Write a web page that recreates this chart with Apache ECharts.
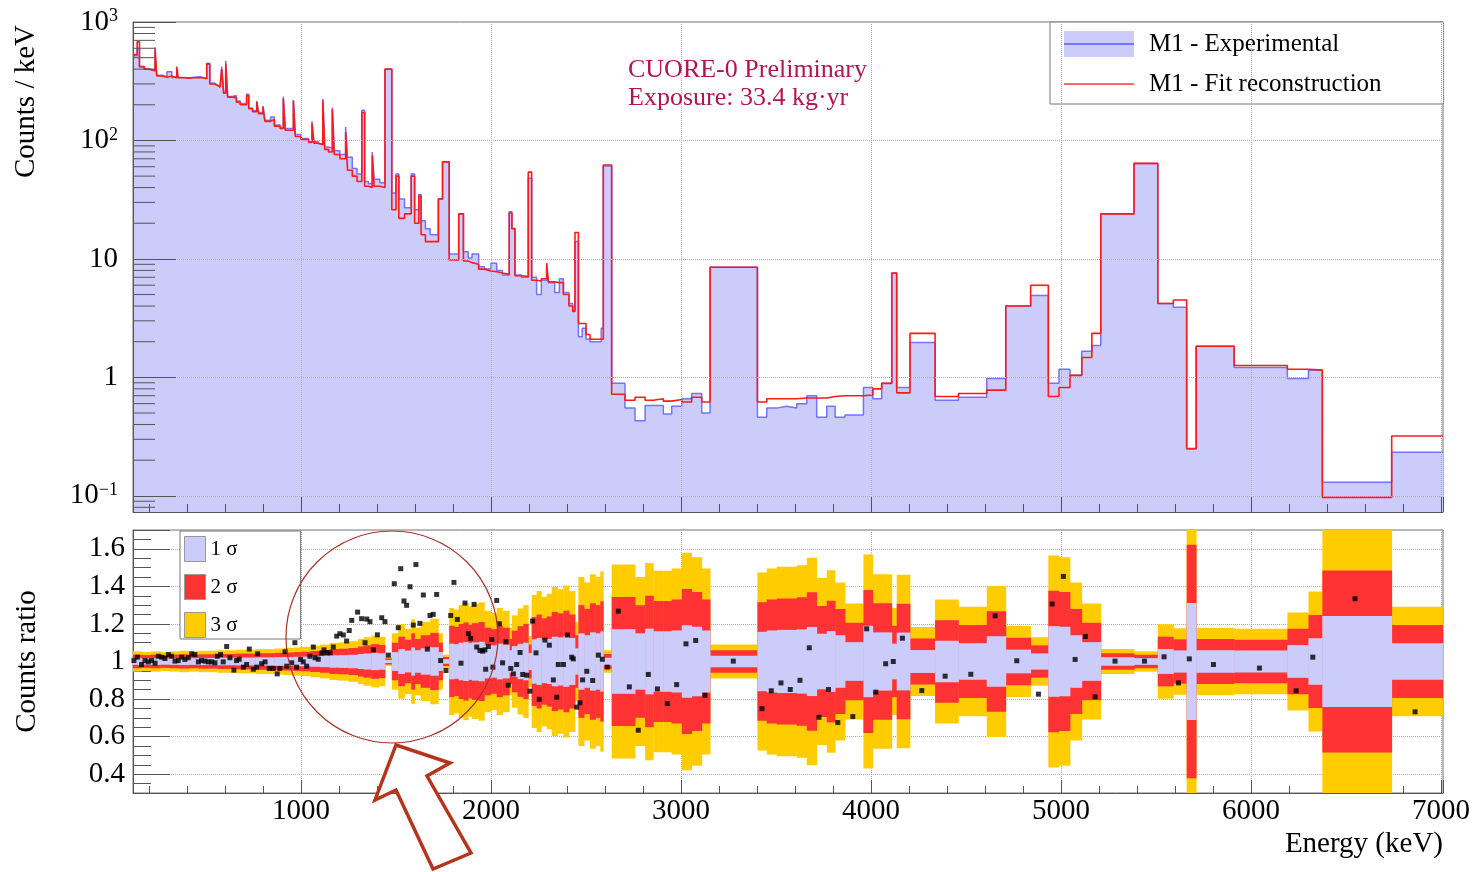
<!DOCTYPE html>
<html>
<head>
<meta charset="utf-8">
<title>CUORE-0 M1 spectrum</title>
<script src="https://cdn.jsdelivr.net/npm/echarts@6/dist/echarts.min.js"></script>
<style>
html, body { margin: 0; padding: 0; background: #fff; }
#container { width: 1475px; height: 872px; }
</style>
</head>
<body>
<div id="container"></div>
<script>
// histogram bins: lower edge (keV), last bin ends at binEnd
var binLo = [
  116, 138, 150, 175, 200, 232, 241, 270, 295, 320, 346, 354, 380, 410, 440, 470, 504, 520, 545, 560,
  574, 583, 593, 604, 614, 640, 660, 680, 714, 725, 745, 767, 777, 800, 810, 840, 860, 890, 907, 917,
  960, 970, 1000, 1040, 1058, 1068, 1090, 1115, 1125, 1145, 1165, 1175, 1205, 1235, 1245, 1270, 1295, 1320, 1335, 1355,
  1375, 1385, 1415, 1442, 1478, 1500, 1515, 1545, 1580, 1598, 1620, 1632, 1655, 1680, 1723, 1745, 1780, 1830, 1855, 1880,
  1900, 1935, 1965, 2000, 2030, 2060, 2096, 2110, 2126, 2160, 2196, 2214, 2240, 2265, 2293, 2302, 2335, 2360, 2381, 2410,
  2430, 2442, 2460, 2480, 2500, 2521, 2560, 2580, 2591,
  2635, 2705, 2758, 2811, 2854, 2907, 2951, 3004, 3056, 3109, 3153, 3402, 3451, 3504, 3556, 3609, 3662, 3714, 3767, 3811,
  3863, 3960, 4009, 4056, 4109, 4135, 4205, 4337, 4460, 4609, 4709, 4840, 4933, 4989, 5047, 5109, 5162, 5209, 5384, 5509,
  5591, 5661, 5711, 5911, 6191, 6302, 6375, 6740
];
var binEnd = 7010;

// M1 - Experimental (counts / keV)
var expCounts = [
  520, 600, 420, 400, 385, 560, 355, 345, 380, 340, 360, 340, 338, 342, 345, 335, 440, 305, 295, 285,
  280, 420, 255, 470, 235, 240, 215, 205, 245, 188, 178, 215, 172, 195, 148, 158, 135, 128, 235, 126,
  218, 112, 104, 98, 145, 98, 94, 225, 88, 86, 190, 82, 76, 130, 72, 58, 52, 180, 45, 43,
  80, 47, 44, 400, 36, 52, 32, 27, 52, 26, 35, 21, 18, 16, 32, 66, 11, 24, 11.5, 10.2,
  11, 8.6, 8.2, 9.2, 8.0, 7.3, 25, 18, 7.3, 7.0, 48, 7.0, 5.0, 6.6, 8.0, 6.3, 5.2, 6.8, 5.2, 4.2,
  3.7, 14, 2.2, 2.6, 2.1, 2.0, 2.0, 2.6, 61,
  0.89, 0.55, 0.43, 0.58, 0.58, 0.49, 0.57, 0.66, 0.73, 0.50, 8.5, 0.46, 0.55, 0.57, 0.55, 0.60, 0.70, 0.46, 0.57, 0.46,
  0.48, 0.82, 0.66, 0.89, 7.6, 0.82, 1.97, 0.64, 0.68, 0.98, 4.0, 4.9, 0.89, 1.17, 1.04, 1.66, 1.86, 24, 64, 4.2,
  3.9, 0.25, 1.83, 1.21, 0.98, 1.15, 0.13, 0.233
];

// M1 - Fit reconstruction (counts / keV)
var fitCounts = [
  530, 680, 420, 400, 390, 610, 350, 342, 350, 338, 420, 338, 336, 338, 340, 332, 445, 300, 292, 282,
  278, 400, 250, 445, 232, 230, 210, 200, 240, 185, 175, 212, 168, 193, 145, 150, 132, 126, 225, 122,
  217, 108, 102, 96, 139, 95, 92, 217, 84, 80, 183, 76, 70, 118, 56, 50, 45, 172, 41, 40,
  75, 41, 40, 400, 26, 50, 22, 24, 50, 20, 34, 16, 14, 14, 32, 66, 9.8, 24, 9.6, 9.3,
  9.0, 8.2, 7.9, 7.8, 7.6, 7.4, 24.5, 18, 7.2, 7.1, 54, 6.6, 6.5, 6.8, 9.2, 6.4, 6.3, 6.3, 5.0, 4.0,
  3.6, 16.7, 2.85, 2.85, 2.3, 2.1, 2.1, 2.1, 62,
  0.72, 0.64, 0.68, 0.64, 0.66, 0.63, 0.65, 0.62, 0.68, 0.62, 8.5, 0.62, 0.66, 0.66, 0.66, 0.67, 0.67, 0.67, 0.69, 0.70,
  0.70, 0.71, 0.80, 0.89, 7.6, 0.74, 2.35, 0.69, 0.73, 0.78, 4.0, 6.0, 0.69, 0.82, 1.04, 1.47, 2.35, 24, 64, 4.2,
  4.5, 0.25, 1.83, 1.26, 1.17, 1.15, 0.097, 0.32
];

// ratio panel: band bins (lower edge, keV) and 1 sigma half width
var bandLo = [
  116, 160, 210, 260, 310, 360, 410, 460, 510, 560, 610, 660, 710, 760, 810, 860, 910, 960, 1000, 1050,
  1100, 1150, 1200, 1250, 1300, 1330, 1370, 1410, 1442, 1478, 1512, 1545, 1580, 1598, 1630, 1680, 1723, 1745, 1780, 1805,
  1830, 1855, 1880, 1900, 1935, 1965, 2000, 2030, 2060, 2096, 2110, 2140, 2170, 2196, 2214, 2240, 2265, 2293, 2320, 2350,
  2381, 2410, 2442, 2460, 2490, 2521, 2550, 2575, 2591,
  2635, 2705, 2758, 2811, 2854, 2907, 2951, 3004, 3056, 3109, 3153, 3402, 3451, 3504, 3556, 3609, 3662, 3714, 3767, 3811,
  3863, 3960, 4009, 4056, 4109, 4135, 4205, 4337, 4460, 4609, 4709, 4840, 4933, 4989, 5047, 5109, 5162, 5209, 5384, 5509,
  5591, 5661, 5711, 5911, 6191, 6302, 6375, 6740
];
var bandSigma = [
  0.018, 0.017, 0.018, 0.017, 0.018, 0.019, 0.018, 0.019, 0.019, 0.020, 0.020, 0.021, 0.021, 0.022, 0.022, 0.023, 0.024, 0.025, 0.026, 0.028,
  0.030, 0.033, 0.034, 0.036, 0.040, 0.043, 0.046, 0.044, 0.008, 0.050, 0.066, 0.058, 0.075, 0.060, 0.070, 0.076, 0.050, 0.012, 0.095, 0.092,
  0.100, 0.104, 0.098, 0.102, 0.105, 0.090, 0.086, 0.095, 0.090, 0.060, 0.082, 0.094, 0.100, 0.045, 0.118, 0.125, 0.115, 0.120, 0.132, 0.128,
  0.135, 0.125, 0.070, 0.150, 0.140, 0.155, 0.150, 0.160, 0.020,
  0.172, 0.172, 0.150, 0.175, 0.161, 0.161, 0.165, 0.193, 0.185, 0.165, 0.030, 0.158, 0.165, 0.168, 0.168, 0.171, 0.184, 0.148, 0.162, 0.140,
  0.103, 0.190, 0.155, 0.155, 0.095, 0.154, 0.061, 0.110, 0.097, 0.134, 0.063, 0.043, 0.188, 0.185, 0.140, 0.103, 0.103, 0.022, 0.018, 0.066,
  0.059, 0.311, 0.060, 0.058, 0.087, 0.124, 0.242, 0.097
];

// ratio points: energy (keV) and counts ratio
var ratioE = [
  121, 139, 161, 179, 196, 214, 232, 249, 267, 284, 302, 319, 337, 354, 372, 389, 407, 425, 442, 460,
  477, 495, 512, 530, 547, 560, 577, 591, 609, 626, 647, 661, 675, 697, 714, 728, 749, 767, 772, 793,
  811, 833, 854, 875, 889, 916, 925, 951, 968, 977, 998, 1012, 1030, 1047, 1065, 1074, 1091, 1109, 1121, 1135,
  1153, 1170, 1188, 1205, 1223, 1240, 1254, 1267, 1298, 1319, 1337, 1346, 1363, 1381, 1402, 1425, 1442, 1460, 1491, 1512,
  1525, 1542, 1556, 1574, 1591, 1605, 1626, 1644, 1665, 1679, 1696, 1714, 1735, 1763, 1788, 1805, 1823, 1842, 1863, 1881,
  1893, 1911, 1925, 1942, 1956, 1968, 1972, 1986, 2004, 2010, 2030, 2044, 2061, 2079, 2091, 2104, 2118, 2135, 2153, 2167,
  2188, 2205, 2219, 2237, 2254, 2284, 2307, 2328, 2346, 2354, 2381, 2402, 2425, 2433, 2451, 2468, 2482, 2504, 2535, 2565,
  2586, 2612,
  2670, 2728, 2775, 2828, 2876, 2928, 2977, 3026, 3077, 3126, 3275, 3426, 3475, 3526, 3575, 3626, 3675, 3726, 3776, 3825,
  3904, 3977, 4025, 4077, 4117, 4165, 4267, 4390, 4525, 4653, 4767, 4881, 4953, 5012, 5074, 5128, 5179, 5284, 5439, 5542,
  5618, 5675, 5802, 6044, 6237, 6325, 6547, 6863
];
var ratioVal = [
  1.005, 1.023, 0.984, 1.005, 0.998, 1.005, 0.991, 1.028, 1.023, 1.016, 1.037, 1.028, 1.002, 1.005, 1.023, 1.011, 1.020, 1.041, 1.037, 0.998,
  1.005, 1.002, 0.998, 0.998, 0.993, 1.028, 1.037, 0.998, 1.080, 1.020, 0.954, 1.005, 1.012, 0.970, 0.984, 1.066, 0.959, 0.970, 1.041, 0.988,
  0.998, 0.963, 0.963, 0.934, 0.963, 1.052, 0.975, 0.993, 1.100, 0.970, 1.011, 0.998, 0.975, 1.028, 1.077, 1.020, 1.012, 1.045, 1.062, 1.048,
  1.046, 1.077, 1.135, 1.148, 1.141, 1.109, 1.165, 1.219, 1.263, 1.228, 1.100, 1.226, 1.212, 1.062, 1.142, 1.233, 1.212, 1.034, 1.414, 1.180,
  1.494, 1.322, 1.299, 1.398, 1.194, 1.516, 1.203, 1.354, 1.066, 1.245, 1.251, 1.357, 1.005, 0.952, 1.245, 1.421, 1.224, 0.991, 1.311, 1.148,
  1.123, 1.304, 1.077, 1.059, 1.055, 1.062, 0.959, 1.080, 1.117, 0.970, 1.325, 1.201, 0.993, 1.105, 0.874, 0.963, 0.934, 0.984, 1.048, 0.931,
  0.927, 0.842, 1.215, 1.046, 0.799, 1.114, 1.087, 0.902, 0.810, 0.984, 0.984, 1.141, 1.023, 1.014, 0.757, 0.780, 0.902, 0.948, 0.899, 1.034,
  1.012, 0.970,
  1.268, 0.865, 0.634, 0.931, 0.854, 0.776, 0.877, 1.094, 1.112, 0.820, 1.002, 0.749, 0.844, 0.886, 0.851, 0.900, 1.073, 0.703, 0.851, 0.675,
  0.707, 1.174, 0.837, 0.988, 1.000, 1.124, 0.845, 0.922, 0.932, 1.243, 1.004, 0.826, 1.306, 1.453, 1.011, 1.133, 0.812, 1.002, 1.002, 1.025,
  0.886, 1.014, 0.984, 0.965, 0.844, 1.023, 1.334, 0.732
];

// minor ticks of the log axis
var logMinorTicks = [
  0.08, 0.09, 0.2, 0.3, 0.4, 0.5, 0.6, 0.7, 0.8, 0.9, 2, 3, 4, 5, 6, 7, 8, 9,
  20, 30, 40, 50, 60, 70, 80, 90, 200, 300, 400, 500, 600, 700, 800, 900
];

var X_MIN = 116, X_MAX = 7010;
var SERIF = '"Liberation Serif", "DejaVu Serif", serif';
var AXIS_COL = '#555';
var GRID_LINE = { color: '#b0b0b0', type: 'dotted', width: 1 };

function histPoints(vals) {
  var pts = binLo.map(function (lo, i) { return [lo, vals[i]]; });
  pts.push([binEnd, vals[vals.length - 1]]);
  return pts;
}

var bandData = bandLo.map(function (lo, i) {
  var hi = i + 1 < bandLo.length ? bandLo[i + 1] : binEnd;
  return [lo, hi, bandSigma[i]];
});

function bandItem(k, color) {
  return function (params, api) {
    var lo = api.value(0), hi = api.value(1), s = api.value(2);
    var a = api.coord([lo, 1 + k * s]);
    var b = api.coord([hi, 1 - k * s]);
    var cs = params.coordSys;
    var rect = echarts.graphic.clipRectByRect(
      { x: a[0], y: a[1], width: b[0] - a[0] + 0.4, height: b[1] - a[1] },
      { x: cs.x, y: cs.y, width: cs.width, height: cs.height });
    return rect && { type: 'rect', shape: rect, style: { fill: color } };
  };
}

function powLabel(v) {
  var e = Math.round(Math.log10(v));
  if (Math.abs(v / Math.pow(10, e) - 1) > 1e-6) return '';
  if (e === 0) return '1';
  if (e === 1) return '10';
  return '10{sup|' + (e < 0 ? '\u2212' + (-e) : e) + '}';
}

function svgIcon(svg) {
  return 'image://data:image/svg+xml;charset=utf-8,' + encodeURIComponent(svg);
}
var expIcon = svgIcon("<svg xmlns='http://www.w3.org/2000/svg' width='70' height='26'><rect width='70' height='26' fill='#ccccfb'/><rect y='12' width='70' height='2' fill='#7373ff'/></svg>");
var fitIcon = svgIcon("<svg xmlns='http://www.w3.org/2000/svg' width='70' height='26'><rect width='70' height='26' fill='#ffffff' fill-opacity='0'/><rect y='12.4' width='70' height='1.3' fill='#ff1a1a'/></svg>");

var labelStyle = { color: '#000', fontFamily: SERIF, fontSize: 29 };

var myChart = echarts.init(document.getElementById('container'));
myChart.setOption({
  animation: false,
  backgroundColor: '#fff',
  title: {
    text: 'CUORE-0 Preliminary\nExposure: 33.4 kg\u00b7yr',
    left: 623, top: 51,
    textStyle: { color: '#b3164a', fontFamily: SERIF, fontSize: 26, fontWeight: 'normal', lineHeight: 28 }
  },
  legend: [{
    left: 1050, top: 22, orient: 'vertical',
    itemWidth: 70, itemHeight: 26, itemGap: 14,
    padding: [9, 62, 7, 14],
    borderColor: '#777', borderWidth: 1, backgroundColor: '#fff',
    selectedMode: false,
    textStyle: { color: '#000', fontFamily: SERIF, fontSize: 25, padding: [0, 0, 0, 10] },
    data: [
      { name: 'M1 - Experimental', icon: expIcon },
      { name: 'M1 - Fit reconstruction', icon: fitIcon }
    ]
  }, {
    left: 180, top: 531, orient: 'vertical',
    itemWidth: 21, itemHeight: 25, itemGap: 12,
    padding: [5, 63, 1, 4],
    borderColor: '#777', borderWidth: 1, backgroundColor: '#fff',
    selectedMode: false,
    itemStyle: { borderColor: '#999', borderWidth: 1 },
    textStyle: { color: '#000', fontFamily: SERIF, fontSize: 21 },
    data: [
      { name: '1 \u03c3', icon: 'rect' },
      { name: '2 \u03c3', icon: 'rect' },
      { name: '3 \u03c3', icon: 'rect' }
    ]
  }],
  grid: [
    { left: 133, top: 22, width: 1310, height: 490, show: true, borderColor: '#777', borderWidth: 1, outerBoundsMode: 'none' },
    { left: 133, top: 530, width: 1310, height: 263, show: true, borderColor: '#777', borderWidth: 1, outerBoundsMode: 'none' }
  ],
  xAxis: [{
    type: 'value', gridIndex: 0, min: X_MIN, max: X_MAX, splitNumber: 7, z: 5,
    axisLine: { show: true, lineStyle: { color: AXIS_COL } },
    axisTick: { show: true, inside: true, length: 15, lineStyle: { color: AXIS_COL } },
    minorTick: { show: true, splitNumber: 5, length: 8, lineStyle: { color: AXIS_COL } },
    axisLabel: { show: false },
    splitLine: { show: true, lineStyle: GRID_LINE }
  }, {
    type: 'value', gridIndex: 1, min: X_MIN, max: X_MAX, splitNumber: 7,
    axisLine: { show: true, lineStyle: { color: AXIS_COL } },
    axisTick: { show: true, inside: true, length: 13, lineStyle: { color: AXIS_COL } },
    minorTick: { show: true, splitNumber: 5, length: 7, lineStyle: { color: AXIS_COL } },
    axisLabel: Object.assign({ margin: 4, showMinLabel: false, showMaxLabel: false,
      formatter: function (v) { return String(v); } }, labelStyle),
    splitLine: { show: true, lineStyle: GRID_LINE },
    name: 'Energy (keV)', nameLocation: 'end', nameGap: 0,
    nameTextStyle: { align: 'right', verticalAlign: 'top', padding: [37, 0, 0, 0], color: '#000', fontFamily: SERIF, fontSize: 29 }
  }],
  yAxis: [{
    type: 'log', logBase: 10, gridIndex: 0, min: 0.073, max: 1000, z: 5,
    axisLine: { show: true, lineStyle: { color: AXIS_COL } },
    axisTick: { show: true, inside: true, length: 43, lineStyle: { color: AXIS_COL } },
    minorTick: { show: false },
    splitLine: { show: true, lineStyle: GRID_LINE },
    axisLabel: Object.assign({ margin: 15, formatter: powLabel,
      rich: { sup: { color: '#000', fontFamily: SERIF, fontSize: 18, verticalAlign: 'top' } } }, labelStyle),
    name: 'Counts / keV', nameLocation: 'end', nameRotate: 90, nameGap: 0,
    nameTextStyle: { align: 'right', verticalAlign: 'bottom', padding: [0, 3, 92, 0], color: '#000', fontFamily: SERIF, fontSize: 29 }
  }, {
    type: 'value', gridIndex: 1, min: 0.3, max: 1.7, splitNumber: 7,
    axisLine: { show: true, lineStyle: { color: AXIS_COL } },
    axisTick: { show: true, inside: true, length: 37, lineStyle: { color: AXIS_COL } },
    minorTick: { show: true, splitNumber: 4, length: 18, lineStyle: { color: AXIS_COL } },
    splitLine: { show: true, lineStyle: GRID_LINE },
    axisLabel: Object.assign({ margin: 8, showMinLabel: false, showMaxLabel: false }, labelStyle),
    name: 'Counts ratio', nameLocation: 'middle', nameGap: 91,
    nameTextStyle: { color: '#000', fontFamily: SERIF, fontSize: 29 }
  }],
  series: [{
    name: 'M1 - Experimental', type: 'line', step: 'end',
    xAxisIndex: 0, yAxisIndex: 0, showSymbol: false, symbol: 'none',
    lineStyle: { color: '#7373ff', width: 1.5 },
    itemStyle: { color: '#7373ff' },
    areaStyle: { color: '#ccccfb', opacity: 1, origin: 'start' },
    data: histPoints(expCounts)
  }, {
    name: 'M1 - Fit reconstruction', type: 'line', step: 'end',
    xAxisIndex: 0, yAxisIndex: 0, showSymbol: false, symbol: 'none',
    lineStyle: { color: '#ff1a1a', width: 1.6 },
    itemStyle: { color: '#ff1a1a' },
    data: histPoints(fitCounts)
  }, {
    type: 'custom', xAxisIndex: 0, yAxisIndex: 0, z: 6, silent: true,
    data: logMinorTicks.map(function (v) { return [X_MIN, v]; }),
    renderItem: function (params, api) {
      var p = api.coord([api.value(0), api.value(1)]);
      return { type: 'line', shape: { x1: p[0], y1: p[1], x2: p[0] + 22, y2: p[1] },
        style: { stroke: AXIS_COL, lineWidth: 1 } };
    }
  }, {
    name: '3 \u03c3', type: 'custom', xAxisIndex: 1, yAxisIndex: 1, silent: true,
    itemStyle: { color: '#ffcc00' },
    encode: { x: [0, 1], y: 2 },
    renderItem: bandItem(3, '#ffcc00'),
    data: bandData
  }, {
    name: '2 \u03c3', type: 'custom', xAxisIndex: 1, yAxisIndex: 1, silent: true,
    itemStyle: { color: '#ff3333' },
    encode: { x: [0, 1], y: 2 },
    renderItem: bandItem(2, '#ff3333'),
    data: bandData
  }, {
    name: '1 \u03c3', type: 'custom', xAxisIndex: 1, yAxisIndex: 1, silent: true,
    itemStyle: { color: '#ccccfb' },
    encode: { x: [0, 1], y: 2 },
    renderItem: bandItem(1, '#ccccfb'),
    data: bandData
  }, {
    type: 'scatter', xAxisIndex: 1, yAxisIndex: 1, clip: true,
    symbol: 'rect', symbolSize: 5,
    itemStyle: { color: '#000' },
    data: ratioE.map(function (e, i) { return [e, ratioVal[i]]; })
  }],
  graphic: [{
    type: 'circle', z: 100, silent: true,
    shape: { cx: 392, cy: 637, r: 106 },
    style: { fill: 'none', stroke: '#a8322a', lineWidth: 1.2 }
  }, {
    type: 'polygon', z: 100, silent: true,
    shape: { points: [[396, 745], [450, 763], [427, 776], [471, 853], [433, 869], [396, 790], [375, 800]] },
    style: { fill: '#fff', stroke: '#b5341c', lineWidth: 3.5, lineJoin: 'miter' }
  }]
});
</script>
</body>
</html>
